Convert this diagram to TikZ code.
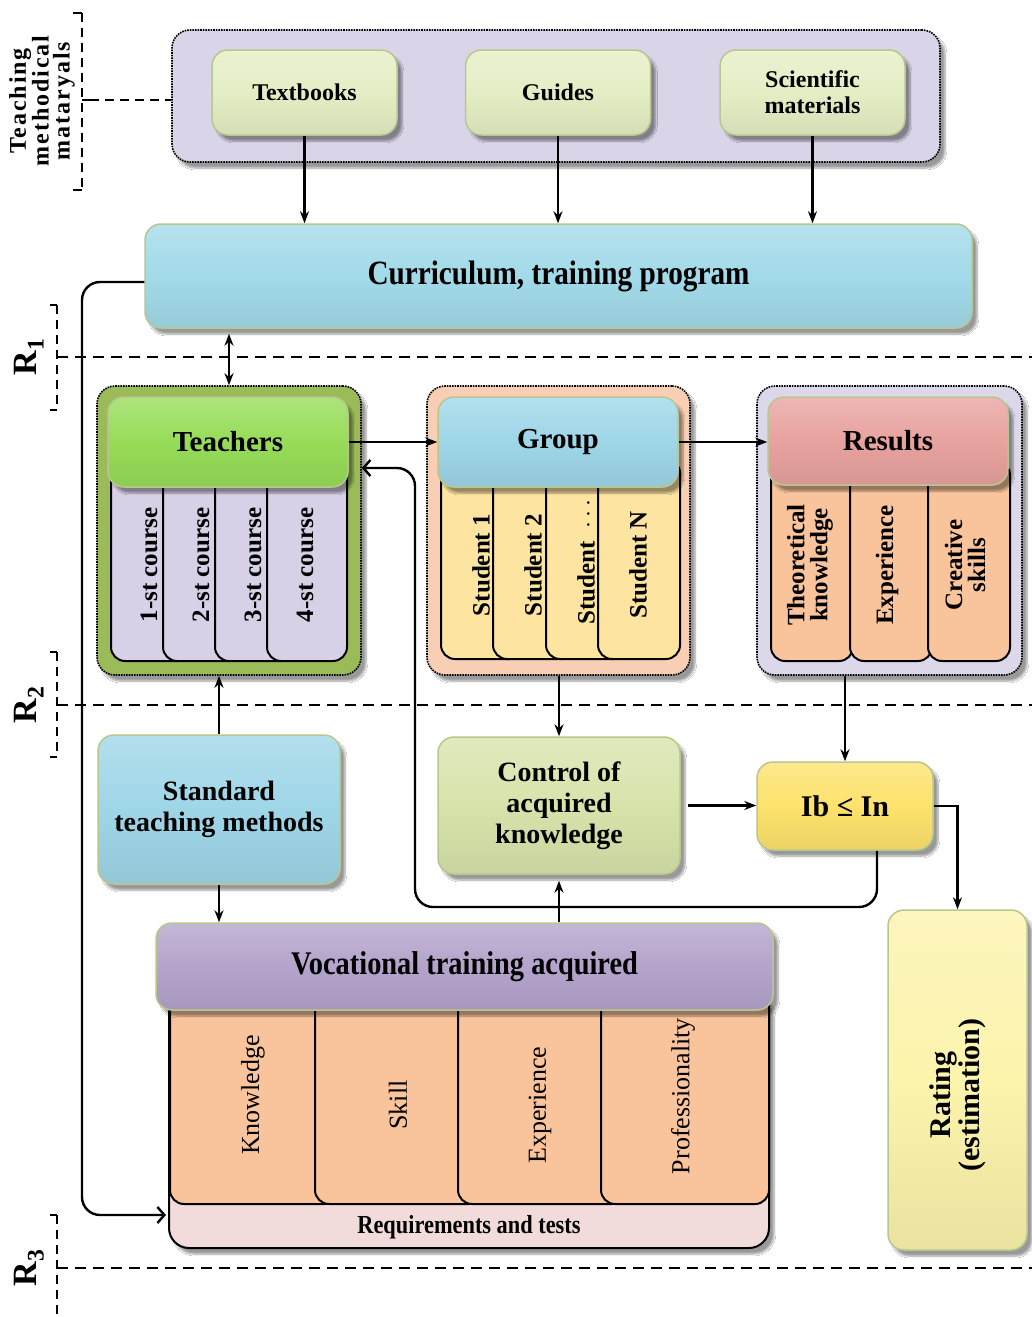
\documentclass[tikz,border=0pt]{standalone}
\usepackage{fontspec}
\setmainfont{Liberation Serif}
\newfontfamily\condfont[FakeStretch=0.86]{Liberation Serif}
\newfontfamily\spacedfont[LetterSpace=8]{Liberation Serif}
\usetikzlibrary{arrows.meta,shadows.blur,calc}
\definecolor{lavbg}{HTML}{DAD4E8}
\definecolor{palegreen}{HTML}{E4EEC4}
\definecolor{curblue}{HTML}{A2DAE9}
\definecolor{olivec}{HTML}{9BBB59}
\definecolor{brgreen}{HTML}{96DC58}
\definecolor{lavcard}{HTML}{D8D0E6}
\definecolor{peach}{HTML}{F8CFB4}
\definecolor{grpblue}{HTML}{9ED6E8}
\definecolor{stuyel}{HTML}{FDE4A1}
\definecolor{reslav}{HTML}{DCD8EA}
\definecolor{resred}{HTML}{E8A29F}
\definecolor{orcard}{HTML}{F9C49B}
\definecolor{ctlgreen}{HTML}{D6E4AB}
\definecolor{ibyel}{HTML}{FDE26C}
\definecolor{ratyel}{HTML}{FCF3AC}
\definecolor{vocpur}{HTML}{B4A3CB}
\definecolor{reqpink}{HTML}{F2DCDB}
\definecolor{boxedge}{HTML}{B8C78E}
\tikzset{
  bx/.style={rounded corners=16pt, draw=boxedge, line width=1.5pt,
    top color=#1!78!white, bottom color=#1!93!black, middle color=#1,
    inner sep=0pt, align=center,
    blur shadow={shadow xshift=5pt, shadow yshift=-6pt, shadow blur steps=8}},
  ctn/.style={rounded corners=18pt, draw=black, densely dotted, line width=1.6pt,
    fill=#1, inner sep=0pt,
    blur shadow={shadow xshift=5pt, shadow yshift=-6pt, shadow blur steps=8}},
  card/.style={rounded corners=14pt, draw=black, line width=2pt, fill=#1,
    inner sep=0pt, anchor=north west},
  rot/.style={rotate=90, align=center, inner sep=0pt,
    font=\bfseries\fontsize{25}{23}\selectfont},
  rotr/.style={rotate=90, align=center, inner sep=0pt,
    font=\fontsize{26}{26}\selectfont},
  arr/.style={line width=2.2pt, -{Stealth[length=12pt,width=9pt]}},
  dbl/.style={line width=2.2pt, {Stealth[length=12pt,width=9pt]}-{Stealth[length=12pt,width=9pt]}},
  barb/.style={line width=2.4pt, rounded corners=18pt, -{Straight Barb[length=7pt,width=16pt]}},
  rl/.style={dash pattern=on 11pt off 7pt, line width=1.7pt},
  brk/.style={dash pattern=on 9pt off 6pt, line width=1.6pt},
  hd/.style={font=\bfseries\fontsize{29}{30}\selectfont},
  hb/.style={font=\bfseries\fontsize{24}{26}\selectfont},
  mid/.style={font=\bfseries\fontsize{28}{31}\selectfont}
}
\begin{document}
\begin{tikzpicture}[x=1pt,y=-1pt]
\useasboundingbox[fill=white] (0,0) rectangle (1032,1317);

% ---------- dashed level lines and brackets ----------
\draw[rl] (57,357) -- (1032,357);
\draw[rl] (57,705) -- (1032,705);
\draw[rl] (57,1268) -- (1032,1268);
\draw[brk] (57,305) -- (57,410);
\draw[line width=1.6pt] (50,305) -- (57,305) (50,410) -- (57,410) (57,357) -- (68,357);
\draw[brk] (57,652) -- (57,757);
\draw[line width=1.6pt] (50,652) -- (57,652) (50,757) -- (57,757) (57,705) -- (68,705);
\draw[brk] (57,1215) -- (57,1317);
\draw[line width=1.6pt] (50,1215) -- (57,1215) (57,1268) -- (68,1268);
\node[rot, font=\bfseries\fontsize{34}{34}\selectfont] (r1) at (29,357) {R\textsubscript{1}};
\node[rot, font=\bfseries\fontsize{34}{34}\selectfont] (r2) at (29,705) {R\textsubscript{2}};
\node[rot, font=\bfseries\fontsize{34}{34}\selectfont] (r3) at (29,1268) {R\textsubscript{3}};

% ---------- top: teaching materials ----------
\node[ctn=lavbg, minimum width=768pt, minimum height=132pt] (tm) at (556,96) {};
\draw[brk] (82,13) -- (82,190);
\draw[line width=1.6pt] (73,13) -- (82,13) (73,190) -- (82,190) (82,100) -- (90,100);
\draw[brk] (90,100) -- (tm.west |- 0,100);
\node[rot, font=\spacedfont\bfseries\fontsize{24}{21}\selectfont] (tml) at (42,101) {Teaching\\methodical\\mataryals};

\node[bx=palegreen, hb, minimum width=185pt, minimum height=85pt] (tb) at (304.5,92.5) {Textbooks};
\node[bx=palegreen, hb, minimum width=185pt, minimum height=85pt] (gd) at (558,92.5) {Guides};
\node[bx=palegreen, hb, minimum width=185pt, minimum height=85pt] (sm) at (812.5,92.5) {Scientific\\materials};

\node[bx=curblue, minimum width=827pt, minimum height=104pt,
  font=\condfont\bfseries\fontsize{34}{36}\selectfont] (cur) at (558.5,276) {Curriculum, training program};

\draw[arr] (tb.south) -- (tb.south |- cur.north);
\draw[arr] (gd.south) -- (gd.south |- cur.north);
\draw[arr] (sm.south) -- (sm.south |- cur.north);

% ---------- teachers ----------
\node[ctn=olivec, minimum width=264pt, minimum height=289pt] (tcont) at (229,530.5) {};
\node[card=lavcard, minimum width=80pt, minimum height=200pt] (tc1) at (110,460) {};
\node[card=lavcard, minimum width=80pt, minimum height=200pt] (tc2) at (162,460) {};
\node[card=lavcard, minimum width=80pt, minimum height=200pt] (tc3) at (214,460) {};
\node[card=lavcard, minimum width=80pt, minimum height=200pt] (tc4) at (266,460) {};
\node[rot] (tt1) at (149,565) {1-st course};
\node[rot] (tt2) at (201,565) {2-st course};
\node[rot] (tt3) at (253,565) {3-st course};
\node[rot] (tt4) at (305,565) {4-st course};
\node[bx=brgreen, hd, minimum width=240pt, minimum height=90pt] (tch) at (228,442) {Teachers};

% ---------- group ----------
\node[ctn=peach, minimum width=263pt, minimum height=289pt] (gcont) at (558.5,530.5) {};
\node[card=stuyel, minimum width=82pt, minimum height=200pt] (sc1) at (440,458) {};
\node[card=stuyel, minimum width=82pt, minimum height=200pt] (sc2) at (492,458) {};
\node[card=stuyel, minimum width=82pt, minimum height=200pt] (sc3) at (545,458) {};
\node[card=stuyel, minimum width=82pt, minimum height=200pt] (sc4) at (597,458) {};
\node[rot] (st1) at (481,565) {Student 1};
\node[rot] (st2) at (533,565) {Student 2};
\node[rot] (st3) at (586,562) {Student \ $\cdots$};
\node[rot] (st4) at (638,565) {Student N};
\node[bx=grpblue, hd, minimum width=240pt, minimum height=90pt] (grp) at (558,442) {Group};

% ---------- results ----------
\node[ctn=reslav, minimum width=265pt, minimum height=289pt] (rcont) at (889.5,530.5) {};
\node[card=orcard, minimum width=82pt, minimum height=200pt] (rc1) at (770,460) {};
\node[card=orcard, minimum width=82pt, minimum height=200pt] (rc2) at (849,460) {};
\node[card=orcard, minimum width=82pt, minimum height=200pt] (rc3) at (927,460) {};
\node[rot] (rt1) at (810,565) {Theoretical\\knowledge};
\node[rot] (rt2) at (887,565) {Experience};
\node[rot] (rt3) at (965,565) {Creative\\skills};
\node[bx=resred, hd, minimum width=240pt, minimum height=88pt] (res) at (888,441) {Results};

% ---------- middle row ----------
\node[bx=grpblue, mid, minimum width=242pt, minimum height=149pt] (std) at (219,809.5) {Standard\\teaching methods};
\node[bx=ctlgreen, mid, minimum width=242pt, minimum height=137pt] (ctrl) at (559,805.5) {Control of\\acquired\\knowledge};
\node[bx=ibyel, font=\bfseries\fontsize{30}{30}\selectfont, minimum width=176pt, minimum height=88pt] (ib) at (845,806) {Ib ≤ In};
\node[bx=ratyel, minimum width=139pt, minimum height=340pt] (rat) at (957.5,1080) {};
\node[rot, font=\bfseries\fontsize{30}{29}\selectfont] (ratt) at (957.5,1095) {Rating\\(estimation)};

% ---------- bottom ----------
\node[card=reqpink, minimum width=600pt, minimum height=257pt, rounded corners=20pt,
  blur shadow={shadow xshift=5pt, shadow yshift=-6pt, shadow blur steps=8}] (req) at (168,990) {};
\node[card=orcard, minimum width=168pt, minimum height=213pt] (vc1) at (169,990) {};
\node[card=orcard, minimum width=168pt, minimum height=213pt] (vc2) at (314,990) {};
\node[card=orcard, minimum width=168pt, minimum height=213pt] (vc3) at (457,990) {};
\node[card=orcard, minimum width=168pt, minimum height=213pt] (vc4) at (600,990) {};
\node[rotr] (vt1) at (253,1095) {Knowledge};
\node[rotr] (vt2) at (398,1105) {Skill};
\node[rotr] (vt3) at (540,1105) {Experience};
\node[rotr] (vt4) at (683,1096) {Professionality};
\node[font=\condfont\bfseries\fontsize{26}{26}\selectfont] (reqt) at (469,1227) {Requirements and tests};
\node[bx=vocpur, minimum width=617pt, minimum height=87pt,
  font=\condfont\bfseries\fontsize{33}{33}\selectfont] (voc) at (464.5,966.5) {Vocational training acquired};

% ---------- connectors ----------
\draw[dbl] ([yshift=-5pt]cur.south -| tcont.north) -- (tcont.north);
\draw[arr] (tch.east) -- (grp.west);
\draw[arr] (grp.east) -- (res.west |- grp.east);
\draw[arr] (std.north) -- (std.north |- tcont.south);
\draw[arr] (std.south) -- (std.south |- voc.north);
\draw[arr] (gcont.south -| ctrl.north) -- (ctrl.north);
\draw[arr] (rcont.south -| ib.north) -- (ib.north);
\draw[arr] ([xshift=7pt]ctrl.east) -- (ib.west |- ctrl.east);
\draw[arr] (ib.east) -- (ib.east -| rat.north) -- (rat.north);
\draw[arr] (voc.north -| ctrl.south) -- ([yshift=-6pt]ctrl.south);

\coordinate (lp1) at (877,907);
\coordinate (lp2) at (415,907);
\coordinate (lp3) at (415,468);
\draw[barb] ([xshift=32pt]ib.south) -- (lp1) -- (lp2) -- (lp3) -- (tcont.east |- lp3);

\coordinate (ll1) at (82,282);
\coordinate (ll2) at (82,1215);
\draw[barb] ([yshift=-6pt]cur.west) -- (ll1) -- (ll2) -- ([xshift=-2pt]req.west |- ll2);
\end{tikzpicture}
\end{document}
